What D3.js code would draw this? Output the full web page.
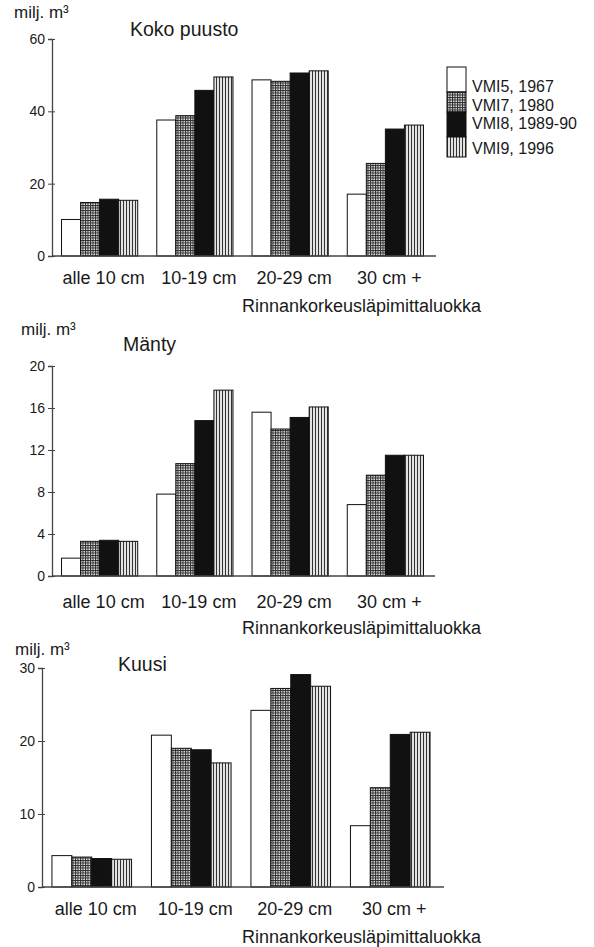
<!DOCTYPE html>
<html>
<head>
<meta charset="utf-8">
<script src="https://cdn.jsdelivr.net/npm/d3@7"></script>
<style>
  body { margin: 0; background: #fff; }
  text { font-family: "Liberation Sans", Arial, sans-serif; fill: #1a1a1a; }
</style>
</head>
<body>
<svg id="chart" width="594" height="947"></svg>
<script>
// categories + legend
var categories = ["alle 10 cm", "10-19 cm", "20-29 cm", "30 cm +"];
var seriesNames = ["VMI5, 1967", "VMI7, 1980", "VMI8, 1989-90", "VMI9, 1996"];
var xTitle = "Rinnankorkeusläpimittaluokka";

// Koko puusto, milj. m3
var kokoVMI5 = [10.1, 37.6, 48.7, 17.1];
var kokoVMI7 = [14.8, 38.8, 48.3, 25.6];
var kokoVMI8 = [15.7, 45.8, 50.6, 35.1];
var kokoVMI9 = [15.4, 49.5, 51.2, 36.2];
var kokoTicks = [0, 20, 40, 60];

// Mänty
var mantyVMI5 = [1.7, 7.8, 15.6, 6.8];
var mantyVMI7 = [3.3, 10.7, 14.0, 9.6];
var mantyVMI8 = [3.4, 14.8, 15.1, 11.5];
var mantyVMI9 = [3.3, 17.7, 16.1, 11.5];
var mantyTicks = [0, 4, 8, 12, 16, 20];

// Kuusi
var kuusiVMI5 = [4.3, 20.8, 24.2, 8.4];
var kuusiVMI7 = [4.1, 19.0, 27.2, 13.6];
var kuusiVMI8 = [3.9, 18.8, 29.1, 20.9];
var kuusiVMI9 = [3.8, 17.0, 27.5, 21.2];
var kuusiTicks = [0, 10, 20, 30];

var svg = d3.select("#chart");
var defs = svg.append("defs");

// checkered pattern (VMI7) - fine dark grid
var p1 = defs.append("pattern").attr("id", "grid")
    .attr("width", 2.5).attr("height", 2.5).attr("patternUnits", "userSpaceOnUse");
p1.append("rect").attr("width", 2.5).attr("height", 2.5).attr("fill", "#eee");
p1.append("rect").attr("width", 1).attr("height", 2.5).attr("fill", "#2a2a2a");
p1.append("rect").attr("width", 2.5).attr("height", 1).attr("fill", "#2a2a2a");

// vertical stripes (VMI9)
var p2 = defs.append("pattern").attr("id", "stripes")
    .attr("width", 3).attr("height", 3).attr("patternUnits", "userSpaceOnUse");
p2.append("rect").attr("width", 3).attr("height", 3).attr("fill", "#e2e2e2");
p2.append("rect").attr("width", 1).attr("height", 3).attr("fill", "#333");

var fills = ["#fff", "url(#grid)", "#111", "url(#stripes)"];

function drawPanel(cfg) {
  var series = [cfg.s5, cfg.s7, cfg.s8, cfg.s9];

  var y = d3.scaleLinear()
      .domain([0, cfg.max])
      .range([cfg.y0, cfg.y1]);

  var x = d3.scaleBand()
      .domain(categories)
      .range([cfg.axisX, cfg.xEnd])
      .paddingInner(0.2)
      .paddingOuter(0.1);

  var xs = d3.scaleBand()
      .domain(d3.range(series.length))
      .range([0, x.bandwidth()]);

  var g = svg.append("g");

  // bars
  categories.forEach(function(c, ci) {
    g.selectAll(null)
      .data(series)
      .enter().append("rect")
        .attr("x", function(d, i) { return x(c) + xs(i); })
        .attr("y", function(d) { return y(d[ci]); })
        .attr("width", xs.bandwidth())
        .attr("height", function(d) { return y(0) - y(d[ci]); })
        .attr("fill", function(d, i) { return fills[i]; })
        .attr("stroke", "#111")
        .attr("stroke-width", 1);
  });

  // y axis
  var ax = g.append("g")
      .attr("transform", "translate(" + cfg.axisX + ",0)")
      .call(d3.axisLeft(y).tickValues(cfg.ticks).tickSize(4).tickPadding(3));
  ax.select(".domain").attr("stroke", "#444").attr("stroke-width", 1.3);
  ax.selectAll(".tick line").attr("x1", 3).attr("x2", -4).attr("stroke", "#444");
  ax.selectAll(".tick text")
      .style("font-size", "14px")
      .attr("fill", "#333");

  // baseline
  g.append("line")
      .attr("x1", cfg.axisX).attr("x2", cfg.baseEnd)
      .attr("y1", y(0)).attr("y2", y(0))
      .attr("stroke", "#444").attr("stroke-width", 1.3);

  // category labels
  g.selectAll(null)
    .data(categories)
    .enter().append("text")
      .attr("x", function(d) { return x(d) + x.bandwidth() / 2 + 4; })
      .attr("y", cfg.catY)
      .attr("text-anchor", "middle")
      .style("font-size", "18px")
      .text(function(d) { return d; });

  g.append("text")
      .attr("x", 242)
      .attr("y", cfg.titleXY)
      .style("font-size", "18px")
      .text(xTitle);

  // unit + panel title
  g.append("text")
      .attr("x", cfg.unitX).attr("y", cfg.unitY)
      .style("font-size", "17px")
      .text("milj. m³");

  g.append("text")
      .attr("x", cfg.nameX).attr("y", cfg.nameY)
      .style("font-size", "19.5px")
      .text(cfg.name);
}

drawPanel({ name: "Koko puusto", s5: kokoVMI5, s7: kokoVMI7, s8: kokoVMI8, s9: kokoVMI9,
  max: 60, ticks: kokoTicks, y0: 256, y1: 39, axisX: 52, xEnd: 433, baseEnd: 436,
  catY: 284, titleXY: 312, unitX: 14, unitY: 18, nameX: 130, nameY: 36 });

drawPanel({ name: "Mänty", s5: mantyVMI5, s7: mantyVMI7, s8: mantyVMI8, s9: mantyVMI9,
  max: 20, ticks: mantyTicks, y0: 576, y1: 366, axisX: 52, xEnd: 433, baseEnd: 435,
  catY: 608, titleXY: 634, unitX: 21, unitY: 335, nameX: 123, nameY: 351 });

drawPanel({ name: "Kuusi", s5: kuusiVMI5, s7: kuusiVMI7, s8: kuusiVMI8, s9: kuusiVMI9,
  max: 30, ticks: kuusiTicks, y0: 887, y1: 668, axisX: 42, xEnd: 440, baseEnd: 444,
  catY: 915, titleXY: 943, unitX: 15, unitY: 655, nameX: 118, nameY: 671 });

// legend
var legend = svg.append("g").attr("transform", "translate(447,67)");
var swatchH = [25, 20, 25, 20];
var swatchY = [0, 25, 45, 70];
legend.selectAll("rect")
  .data(seriesNames)
  .enter().append("rect")
    .attr("x", 0)
    .attr("y", function(d, i) { return swatchY[i]; })
    .attr("width", 19)
    .attr("height", function(d, i) { return swatchH[i]; })
    .attr("fill", function(d, i) { return fills[i]; })
    .attr("stroke", "#111")
    .attr("stroke-width", 1);
var labelY = [25, 44, 62, 87];
legend.selectAll("text")
  .data(seriesNames)
  .enter().append("text")
    .attr("x", 25)
    .attr("y", function(d, i) { return labelY[i]; })
    .style("font-size", "16px")
    .text(function(d) { return d; });
</script>
</body>
</html>
